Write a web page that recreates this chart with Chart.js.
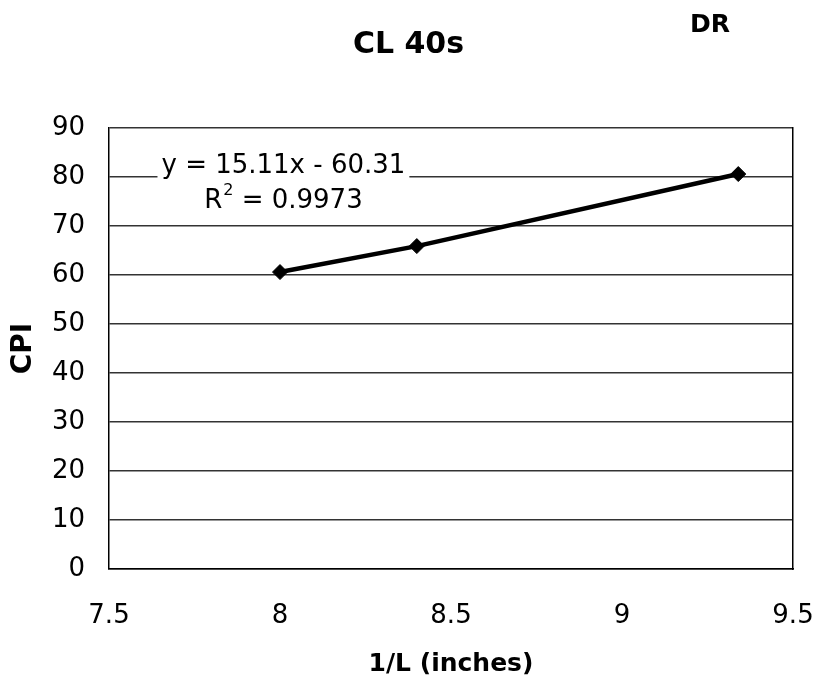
<!DOCTYPE html>
<html>
<head>
<meta charset="utf-8">
<script src="https://cdn.jsdelivr.net/npm/chart.js@4/dist/chart.umd.min.js"></script>
<style>
  html, body { margin: 0; padding: 0; background: #fff; }
  #wrap { width: 817px; height: 686px; }
</style>
</head>
<body>
<div id="wrap"><canvas id="c" width="817" height="686"></canvas></div>
<script>
// ---- data ----
const inverseLength = [8, 8.4, 9.34];        // 1/L (inches)
const cpiValues     = [60.6, 65.9, 80.6];    // CPI
const xTickValues   = [7.5, 8, 8.5, 9, 9.5];
const yTickValues   = [0, 10, 20, 30, 40, 50, 60, 70, 80, 90];
const chartTitle    = 'CL 40s';
const cornerLabel   = 'DR';
const xAxisTitle    = '1/L (inches)';
const yAxisTitle    = 'CPI';
const trendEquation = 'y = 15.11x - 60.31';
const trendR2Value  = ' = 0.9973';
const trendLabelAt  = [8.01, 82.2];          // where the trendline label sits (data units)

const FONT = "'DejaVu Sans', 'Liberation Sans', Arial, sans-serif";

const frameAndText = {
  id: 'frameAndText',
  beforeDatasetsDraw(chart) {
    const {ctx, scales} = chart;
    const cx = scales.x.getPixelForValue(trendLabelAt[0]);
    const cy = scales.y.getPixelForValue(trendLabelAt[1]);
    ctx.save();
    ctx.font = '26px ' + FONT;
    const w1 = ctx.measureText(trendEquation).width;
    const wR = ctx.measureText('R').width;
    const wRest = ctx.measureText(trendR2Value).width;
    ctx.font = '16px ' + FONT;
    const w2 = ctx.measureText('2').width;
    const wRow2 = wR + w2 + 1 + wRest;
    const boxW = Math.max(w1, wRow2) + 8;
    ctx.fillStyle = '#fff';
    ctx.fillRect(cx - boxW / 2, cy - 18, boxW, 70);
    ctx.fillStyle = '#000';
    ctx.textBaseline = 'middle';
    ctx.textAlign = 'left';
    ctx.font = '26px ' + FONT;
    ctx.fillText(trendEquation, cx - w1 / 2, cy);
    const y2 = cy + 35;
    let x2 = cx - wRow2 / 2;
    ctx.fillText('R', x2, y2);
    x2 += wR;
    ctx.font = '16px ' + FONT;
    ctx.fillText('2', x2 + 1, y2 - 10);
    x2 += w2 + 1;
    ctx.font = '26px ' + FONT;
    ctx.fillText(trendR2Value, x2, y2);
    ctx.restore();
  },
  afterDraw(chart) {
    const {ctx} = chart;
    ctx.save();
    ctx.font = 'bold 25px ' + FONT;
    ctx.fillStyle = '#000';
    ctx.textAlign = 'center';
    ctx.textBaseline = 'alphabetic';
    ctx.fillText(cornerLabel, 710, 32);
    ctx.restore();
  }
};

new Chart(document.getElementById('c'), {
  type: 'scatter',
  data: {
    datasets: [{
      data: inverseLength.map((x, i) => ({x: x, y: cpiValues[i]})),
      showLine: true,
      borderColor: '#000',
      backgroundColor: '#000',
      borderWidth: 4.5,
      pointStyle: 'rectRot',
      pointRadius: 7.5,
      pointBorderWidth: 1,
      pointBackgroundColor: '#000',
      pointBorderColor: '#000',
      tension: 0
    }]
  },
  options: {
    responsive: false,
    animation: false,
    layout: { padding: 0 },
    plugins: {
      legend: { display: false },
      tooltip: { enabled: false },
      title: {
        display: true,
        text: chartTitle,
        color: '#000',
        font: { family: FONT, size: 30, weight: 'bold' },
        padding: { top: 27, bottom: 65 }
      }
    },
    scales: {
      x: {
        type: 'linear',
        min: 7.5,
        max: 9.5,
        afterBuildTicks(scale) { scale.ticks = xTickValues.map(v => ({value: v})); },
        afterFit(scale) { scale.height = 117; scale.paddingLeft = 0; scale.paddingRight = 0; },
        grid: { color: 'rgba(0,0,0,0)', drawTicks: false },
        border: { display: true, color: '#000', width: 1.5 },
        ticks: {
          color: '#000',
          padding: 32,
          font: { family: FONT, size: 26 },
          callback: v => String(v)
        },
        title: {
          display: true,
          text: xAxisTitle,
          color: '#000',
          font: { family: FONT, size: 25, weight: 'bold' },
          padding: { top: 0, bottom: 7 }
        }
      },
      y: {
        type: 'linear',
        min: 0,
        max: 90,
        afterBuildTicks(scale) { scale.ticks = yTickValues.map(v => ({value: v})); },
        afterFit(scale) { scale.width = 109; },
        grid: { color: '#333', lineWidth: 1.5, drawTicks: false },
        border: { display: true, color: '#000', width: 1.5 },
        ticks: {
          color: '#000',
          padding: 24,
          font: { family: FONT, size: 26 },
          callback: v => String(v)
        },
        title: {
          display: true,
          text: yAxisTitle,
          color: '#000',
          font: { family: FONT, size: 28, weight: 'bold' },
          padding: { top: 7, bottom: 0 }
        }
      },
      yRight: {
        type: 'linear',
        position: 'right',
        min: 0,
        max: 90,
        afterFit(scale) { scale.width = 24; },
        grid: { display: false, drawTicks: false },
        border: { display: true, color: '#000', width: 1.5 },
        ticks: { display: false }
      }
    }
  },
  plugins: [frameAndText]
});
</script>
</body>
</html>
